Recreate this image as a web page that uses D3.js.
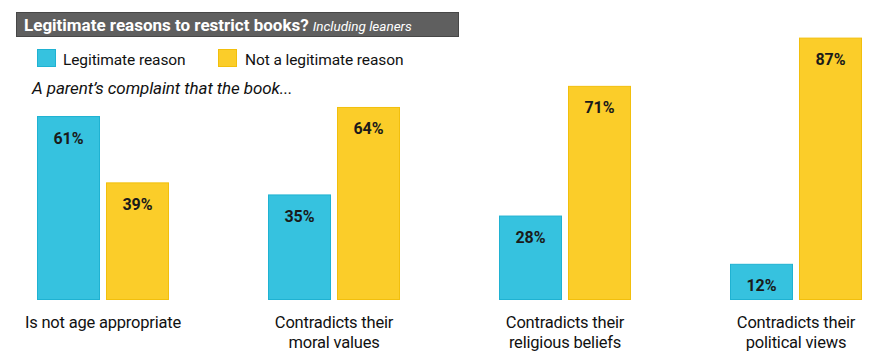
<!DOCTYPE html>
<html><head><meta charset="utf-8">
<script src="https://cdn.jsdelivr.net/npm/d3@7"></script>
<style>
html,body{margin:0;padding:0;background:#fff;}
svg{display:block;}
</style></head>
<body>
<svg id="chart" width="882" height="360"></svg>
<script>
const categories = [["Is not age appropriate"], ["Contradicts their", "moral values"], ["Contradicts their", "religious beliefs"], ["Contradicts their", "political views"]];
const seriesNames = ["Legitimate reason", "Not a legitimate reason"];
const legitimate = [61, 35, 28, 12];
const notLegitimate = [39, 64, 71, 87];
const titleMain = "Legitimate reasons to restrict books?";
const titleSub = "Including leaners";
const subtitle = "A parent\u2019s complaint that the book...";

const colors = ["#36c2df", "#fbcd29"];
const strokes = ["#1fb2d2", "#f2bf0c"];
const FONT = "Roboto, 'Liberation Sans', sans-serif";

const svg = d3.select("#chart");
const data = categories.map((c, i) => ({cat: i, label: c, vals: [legitimate[i], notLegitimate[i]]}));

const x0 = d3.scaleBand().domain(d3.range(categories.length)).range([37, 862]).paddingInner(99/231).paddingOuter(0);
const x1 = d3.scaleBand().domain([0, 1]).range([0, x0.bandwidth()]).paddingInner(6/69).paddingOuter(0);
const y = d3.scaleLinear().domain([0, 100]).range([300, 300 - 301.6]);

// Title bar
svg.append("rect").attr("x", 16.5).attr("y", 12.5).attr("width", 442).attr("height", 24)
  .attr("fill", "#5f5f5f").attr("stroke", "#474747").attr("stroke-width", 1);
const t = svg.append("text").attr("x", 24).attr("y", 30.5).attr("fill", "#fff").attr("font-family", FONT);
t.append("tspan").attr("font-weight", "bold").attr("font-size", 17).attr("letter-spacing", 0).text(titleMain);
t.append("tspan").attr("font-style", "italic").attr("font-size", 13.5).attr("dx", 4).text(titleSub);

// Legend
const lx = [37, 218], ltx = [63, 245];
seriesNames.forEach((n, i) => {
  svg.append("rect").attr("x", lx[i] + 0.5).attr("y", 49.5).attr("width", 18).attr("height", 17)
    .attr("fill", colors[i]).attr("stroke", strokes[i]);
  svg.append("text").attr("x", ltx[i]).attr("y", 64.5).attr("font-family", FONT).attr("font-size", 15.5)
    .attr("fill", "#111").attr("letter-spacing", -0.1).text(n);
});

// Subtitle
svg.append("text").attr("x", 32).attr("y", 94).attr("font-family", FONT).attr("font-style", "italic")
  .attr("font-size", 17).attr("fill", "#111").attr("letter-spacing", -0.1).text(subtitle);

// Bars
const g = svg.selectAll("g.grp").data(data).join("g").attr("class", "grp")
  .attr("transform", d => `translate(${x0(d.cat)},0)`);
const bars = g.selectAll("g.bar").data(d => d.vals.map((v, s) => ({v, s}))).join("g").attr("class", "bar");
bars.append("rect")
  .attr("x", d => x1(d.s) + 0.5).attr("y", d => y(d.v) + 0.5)
  .attr("width", x1.bandwidth() - 1).attr("height", d => y(0) - y(d.v) - 1)
  .attr("fill", d => colors[d.s]).attr("stroke", d => strokes[d.s]);
bars.append("text")
  .attr("x", d => x1(d.s) + x1.bandwidth() / 2).attr("y", d => y(d.v) + 27.5)
  .attr("text-anchor", "middle").attr("font-family", FONT).attr("font-weight", "bold")
  .attr("font-size", 16).attr("fill", "#1a1a1a").text(d => d.v + "%");

// Category labels
g.append("text").attr("x", x0.bandwidth() / 2).attr("y", 328).attr("text-anchor", "middle")
  .attr("font-family", FONT).attr("font-size", 16.5).attr("fill", "#111").attr("letter-spacing", -0.2)
  .selectAll("tspan").data(d => d.label).join("tspan")
  .attr("x", x0.bandwidth() / 2).attr("dy", (d, i) => i === 0 ? 0 : 20).text(d => d);
</script>
</body></html>
